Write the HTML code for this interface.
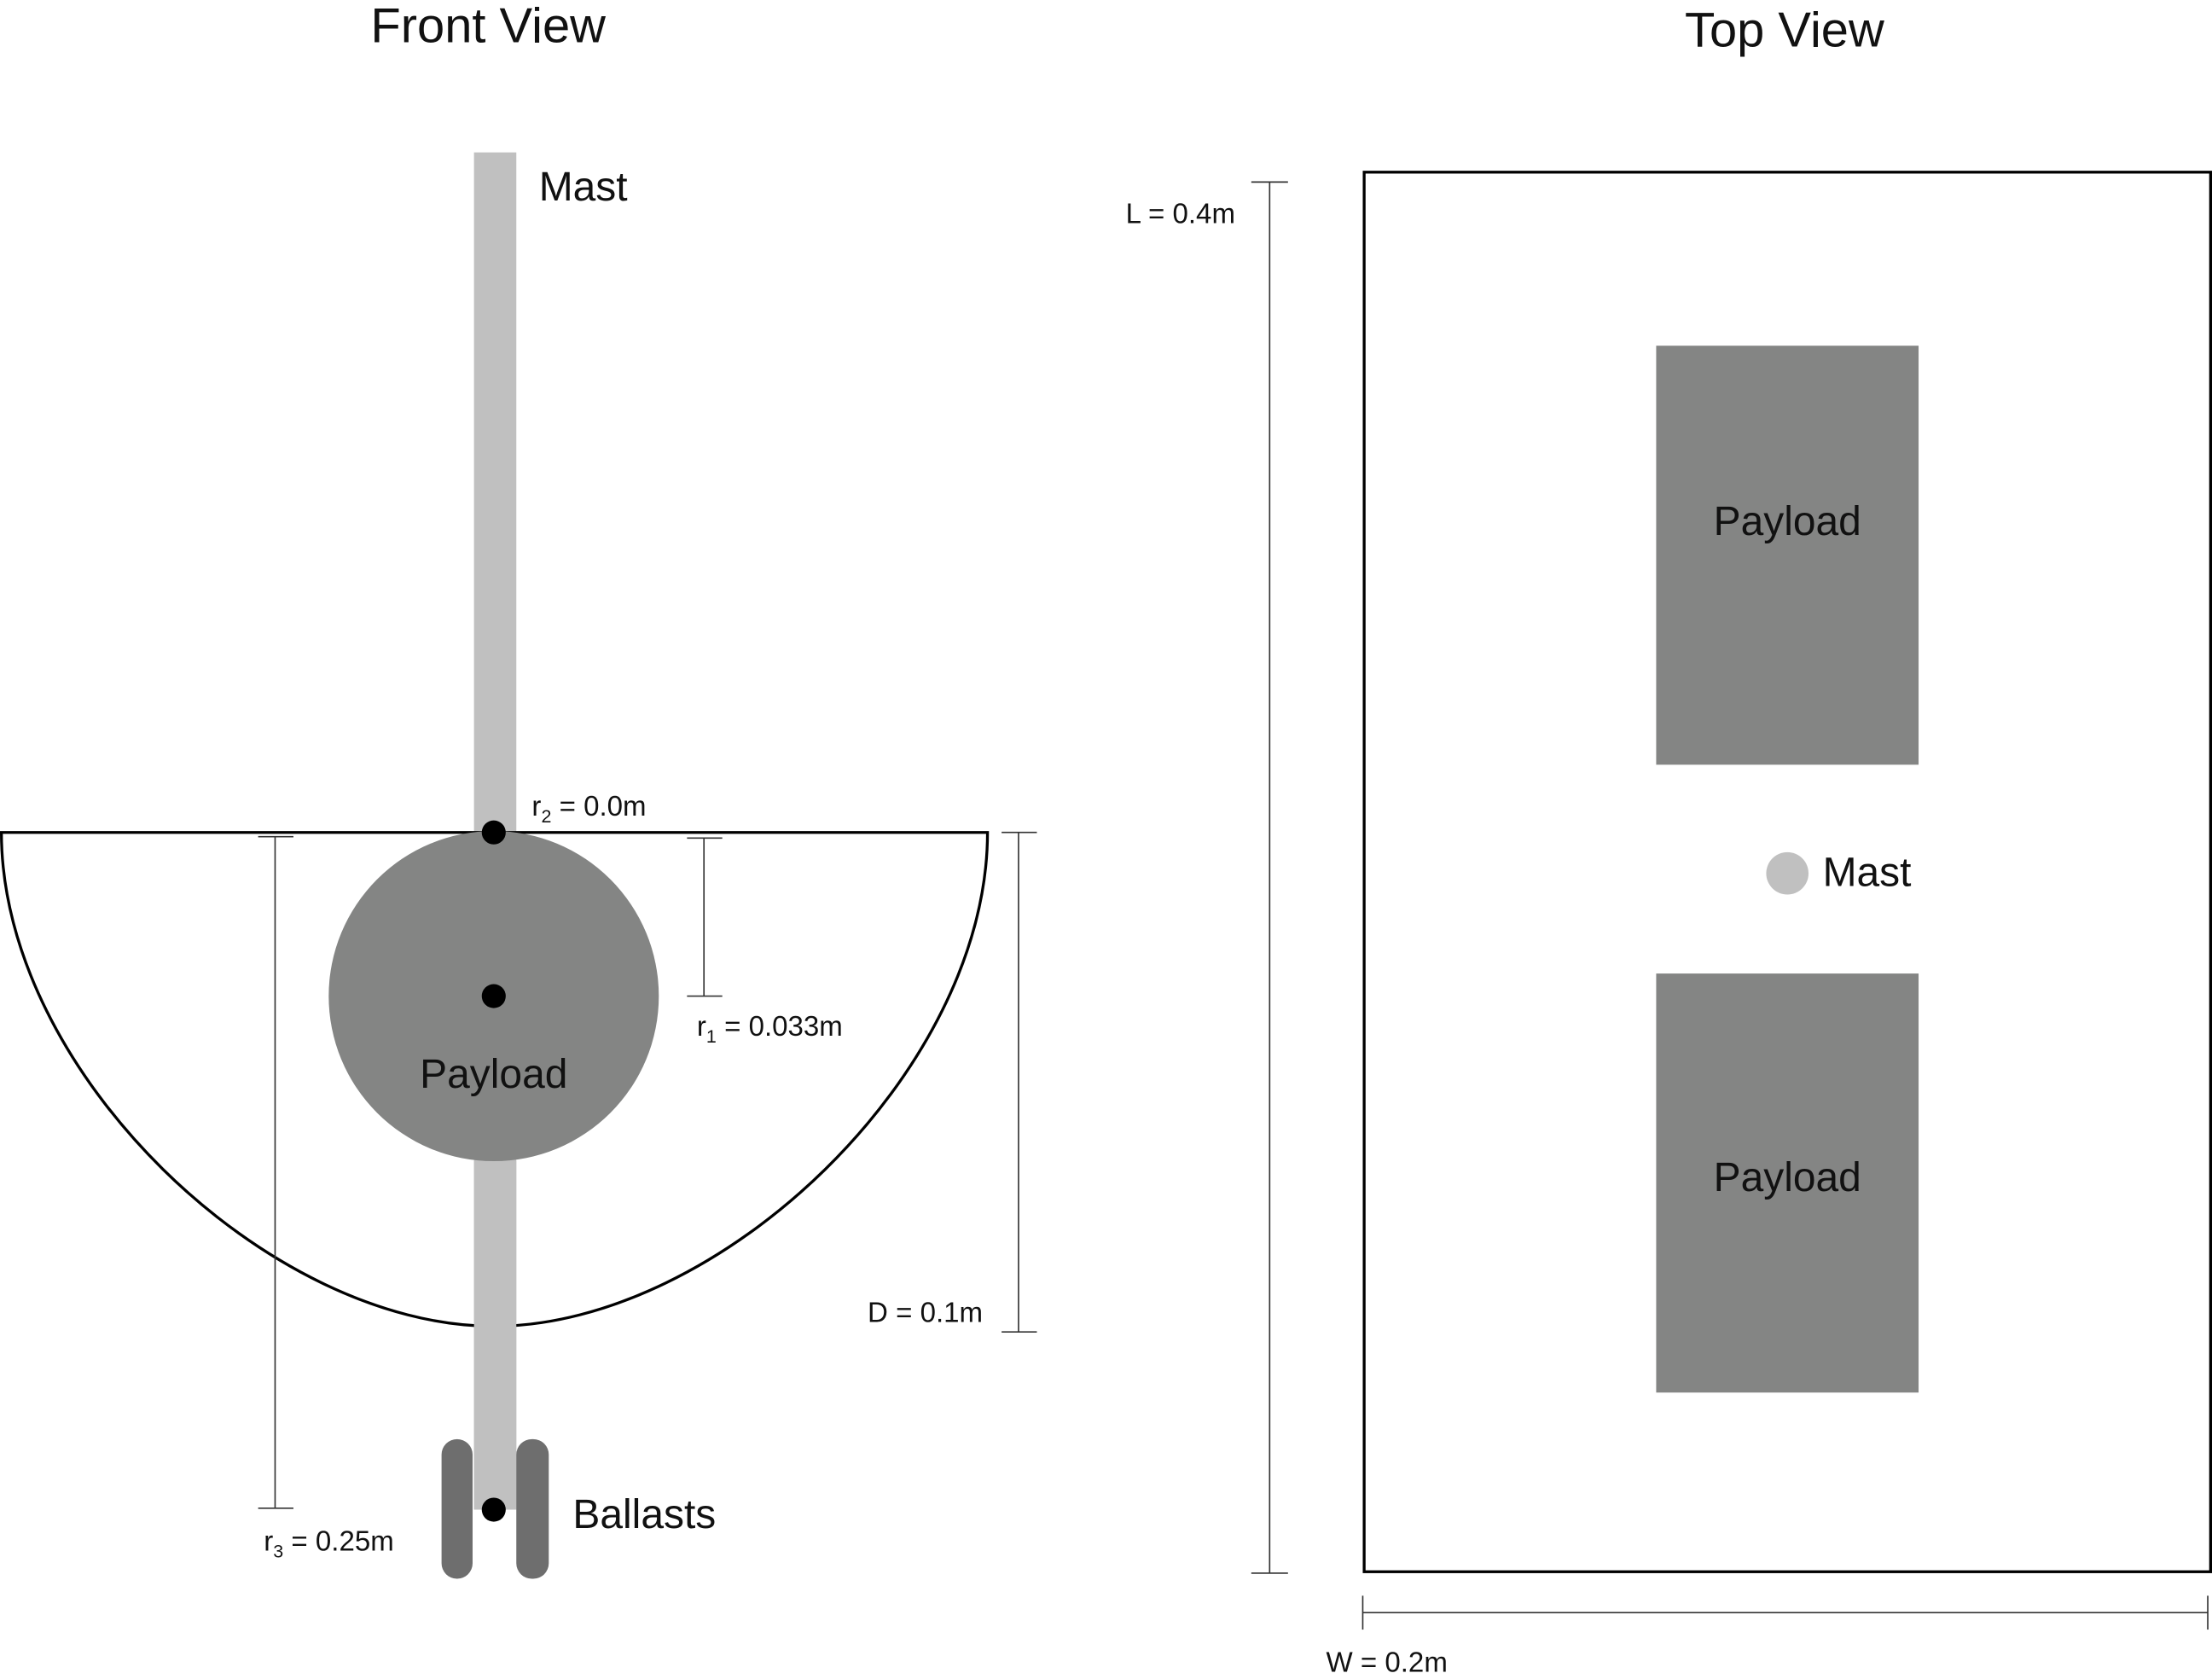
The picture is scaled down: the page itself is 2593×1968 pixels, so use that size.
<!DOCTYPE html>
<html><head><meta charset="utf-8"><style>
html,body{margin:0;padding:0;background:#fff;}
svg{display:block;}
text{font-family:"Liberation Sans","DejaVu Sans",sans-serif;fill:#111;}
</style></head><body>
<svg width="2593" height="1968" viewBox="0 0 1568 1190" xmlns="http://www.w3.org/2000/svg">
<rect width="1568" height="1190" fill="#fff"/>
<text x="346" y="30" font-size="35" text-anchor="middle">Front View</text>
<text x="1265" y="33" font-size="35" text-anchor="middle">Top View</text>
<!-- mast -->
<rect x="336" y="108" width="30" height="962" fill="#c0c0c0"/>
<text x="382" y="142" font-size="29">Mast</text>
<!-- hull -->
<path d="M1,590 L700,590 C700,760 510,940 350,940 C190,940 1,760 1,590 Z" fill="none" stroke="#000" stroke-width="2"/>
<rect x="336" y="823" width="30" height="247" fill="#c0c0c0"/>
<circle cx="350" cy="706" r="117" fill="#848584"/>
<text x="350" y="771" font-size="29" text-anchor="middle">Payload</text>
<!-- ballasts -->
<rect x="313" y="1020" width="22" height="99" rx="11" fill="#6e6e6e"/>
<rect x="366" y="1020" width="23" height="99" rx="11" fill="#6e6e6e"/>
<circle cx="350" cy="590" r="8.5" fill="#000"/>
<circle cx="350" cy="706" r="8.5" fill="#000"/>
<circle cx="350" cy="1070" r="8.5" fill="#000"/>
<text x="406" y="1083" font-size="29">Ballasts</text>
<!-- dims -->
<g stroke="#333" stroke-width="1" fill="none">
<line x1="499" y1="594" x2="499" y2="706"/><line x1="487" y1="594" x2="512" y2="594"/><line x1="487" y1="706" x2="512" y2="706"/>
<line x1="722" y1="590" x2="722" y2="944"/><line x1="710" y1="590" x2="735" y2="590"/><line x1="710" y1="944" x2="735" y2="944"/>
<line x1="195" y1="593" x2="195" y2="1069"/><line x1="183" y1="593" x2="208" y2="593"/><line x1="183" y1="1069" x2="208" y2="1069"/>
<line x1="900" y1="129" x2="900" y2="1115"/><line x1="887" y1="129" x2="913" y2="129"/><line x1="887" y1="1115" x2="913" y2="1115"/>
<line x1="966" y1="1143" x2="1565" y2="1143"/><line x1="966" y1="1131" x2="966" y2="1155"/><line x1="1565" y1="1131" x2="1565" y2="1155"/>
</g>
<text x="377" y="578" font-size="20">r<tspan font-size="13" dy="5">2</tspan><tspan dy="-5"> = 0.0m</tspan></text>
<text x="494" y="734" font-size="20">r<tspan font-size="13" dy="5">1</tspan><tspan dy="-5"> = 0.033m</tspan></text>
<text x="187" y="1099" font-size="20">r<tspan font-size="13" dy="5">3</tspan><tspan dy="-5"> = 0.25m</tspan></text>
<text x="615" y="937" font-size="20">D = 0.1m</text>
<text x="798" y="158" font-size="20">L = 0.4m</text>
<text x="940" y="1185" font-size="20">W = 0.2m</text>
<!-- top view -->
<rect x="967" y="122" width="600" height="992" fill="none" stroke="#000" stroke-width="2"/>
<rect x="1174" y="245" width="186" height="297" fill="#848584"/>
<rect x="1174" y="690" width="186" height="297" fill="#848584"/>
<text x="1267" y="379" font-size="29" text-anchor="middle">Payload</text>
<text x="1267" y="844" font-size="29" text-anchor="middle">Payload</text>
<circle cx="1267" cy="619" r="15" fill="#c0c0c0"/>
<text x="1292" y="628" font-size="29">Mast</text>
</svg>
</body></html>
